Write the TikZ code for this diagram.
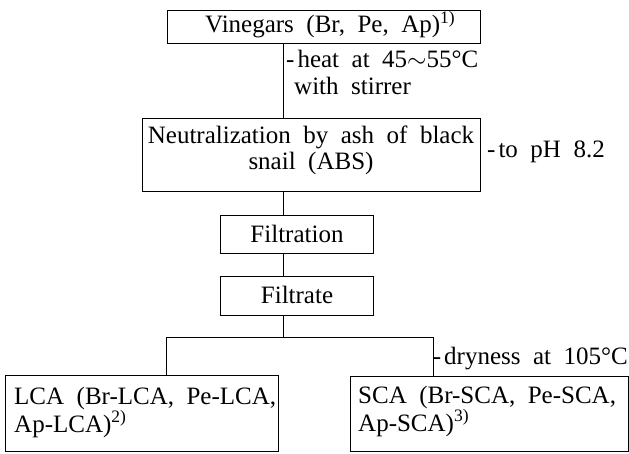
\documentclass[tikz,border=0pt]{standalone}
\usepackage{fontspec}
\setmainfont[WordSpace=2]{Liberation Serif}
\begin{document}
\begin{tikzpicture}[x=1pt,y=-1pt,
  box/.style={draw, line width=0.9pt, rectangle, inner sep=0pt, anchor=north west},
  txt/.style={font=\fontsize{25}{27}\selectfont, inner sep=0pt},
  link/.style={line width=0.9pt}]
\useasboundingbox (0,0) rectangle (629,454);
% boxes
\node[box, minimum width=313pt, minimum height=33pt] (vin) at (167,10) {};
\node[box, minimum width=338pt, minimum height=73pt] (neu) at (142,118) {};
\node[box, minimum width=153pt, minimum height=38pt] (fil) at (220,215) {};
\node[box, minimum width=153pt, minimum height=39pt] (ftt) at (220,276) {};
\node[box, minimum width=273pt, minimum height=76pt] (lca) at (5,375) {};
\node[box, minimum width=278pt, minimum height=75pt] (sca) at (350,376) {};
% texts
\node[txt, anchor=base west] (vint) at (205,33) {Vinegars (Br, Pe, Ap)\textsuperscript{1)}};
\node[txt, anchor=base, align=center, font=\fontsize{25}{26}\selectfont] (neut) at (311,170) {Neutralization by ash of black\\snail (ABS)};
\node[txt, anchor=base] (filt) at (297,243) {Filtration};
\node[txt, anchor=base] (fttt) at (297,304) {Filtrate};
\node[txt, anchor=base west, align=left, font=\fontsize{25}{25}\selectfont] (lcat) at (14,432) {LCA (Br-LCA, Pe-LCA,\\Ap-LCA)\textsuperscript{2)}};
\node[txt, anchor=base west, align=left, font=\fontsize{25}{25}\selectfont] (scat) at (358,431) {SCA (Br-SCA, Pe-SCA,\\Ap-SCA)\textsuperscript{3)}};
% side labels
\node[txt, anchor=base west, align=left] (heat) at (286,95) {-\kern3pt heat at 45$\sim$55°C\\\hspace*{8pt}with stirrer};
\node[txt, anchor=base west] (ph) at (487,158) {-\kern3pt to pH 8.2};
\node[txt, anchor=base east] (dry) at (628,364) {-\kern3pt dryness at 105°C};
% connectors
\coordinate (spine) at (283,0);
\coordinate (hl) at (166,337);
\coordinate (hr) at (433,337);
\draw[link] (vin.south -| spine) -- (neu.north -| spine);
\draw[link] (neu.south -| spine) -- (fil.north -| spine);
\draw[link] (fil.south -| spine) -- (ftt.north -| spine);
\draw[link] (ftt.south -| spine) -- (spine |- hl);
\draw[link] (lca.north -| hl) -- (hl) -- (hr) -- (sca.north -| hr);
\end{tikzpicture}
\end{document}
